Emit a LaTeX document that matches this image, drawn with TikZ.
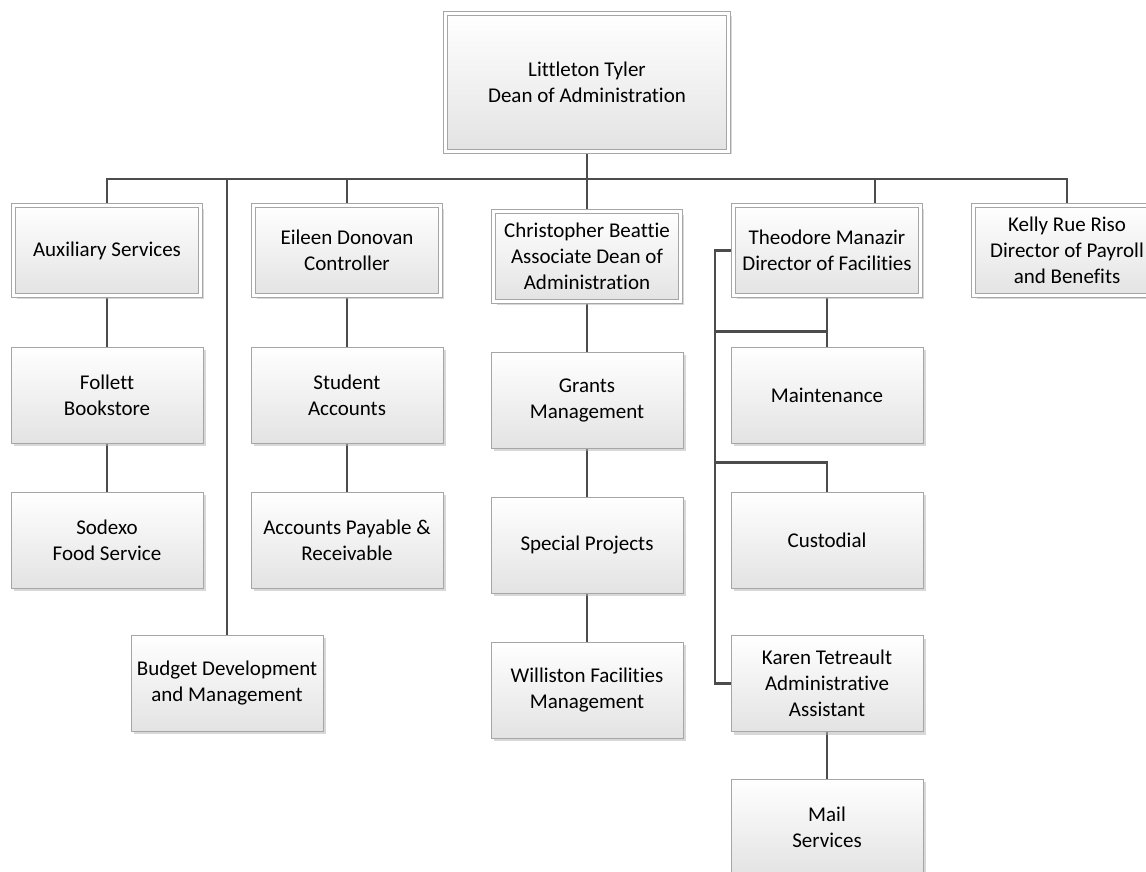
\documentclass[tikz,border=0pt]{standalone}
\usepackage{fontspec}
\setmainfont{Carlito}[Ligatures=NoCommon]
\usetikzlibrary{positioning,shadows,backgrounds}

\begin{document}
\begin{tikzpicture}[x=1pt,y=-1pt,
    font=\fontsize{21}{26}\selectfont,
    box/.style={rectangle,draw=black!35,line width=0.8pt,top color=white,bottom color=black!11,
      align=center,minimum width=192pt,minimum height=96pt,inner sep=2pt,
      drop shadow={shadow xshift=3pt,shadow yshift=-3pt,fill=black!30}},
    headbox/.style={box,double=white,double distance=3pt,line width=0.9pt,
      minimum width=187pt,minimum height=90pt},
    link/.style={draw=black!70,line width=2.4pt}]
    \useasboundingbox (0,0) rectangle (1146,872);

    \node[headbox,minimum width=283pt,minimum height=138pt] (dean) at (587,82.5) {Littleton Tyler\\Dean of Administration};

    % first level
    \node[headbox] (aux) at (107,250.5) {Auxiliary Services};
    \node[headbox] (ctrl) at (347,250.5) {Eileen Donovan\\Controller};
    \node[headbox] (assoc) at (587,256.5) {Christopher Beattie\\Associate Dean of\\Administration};
    \node[headbox] (facil) at (827,250.5) {Theodore Manazir\\Director of Facilities};
    \node[headbox] (payroll) at (1067,250.5) {Kelly Rue Riso\\Director of Payroll\\and Benefits};

    % second level
    \node[box] (follett) at (107,395) {Follett\\Bookstore};
    \node[box] (sodexo) at (107,540) {Sodexo\\Food Service};
    \node[box] (budget) at (227,683) {Budget Development\\and Management};
    \node[box] (student) at (347,395) {Student\\Accounts};
    \node[box] (payable) at (347,540) {Accounts Payable \&\\Receivable};
    \node[box] (grants) at (587,400) {Grants\\Management};
    \node[box] (special) at (587,545) {Special Projects};
    \node[box] (willis) at (587,690) {Williston Facilities\\Management};
    \node[box] (maint) at (827,395) {Maintenance};
    \node[box] (custod) at (827,540) {Custodial};
    \node[box] (admin) at (827,683.5) {Karen Tetreault\\Administrative\\Assistant};
    \node[box] (mail) at (827,827) {Mail\\Services};

    \begin{scope}[on background layer]
      \coordinate (bus) at (0,179);
      \coordinate (spine) at (715,0);
      \draw[link] (dean) -- (dean |- bus);
      \draw[link] (aux) -- (aux |- bus) -- (payroll |- bus) -- (payroll);
      \foreach \n in {ctrl,assoc,budget}
        \draw[link] (\n) -- (\n |- bus);
      \draw[link] ([xshift=48pt]facil.north) -- ([xshift=48pt]facil.north |- bus);

      \draw[link] (aux) -- (follett) -- (sodexo);
      \draw[link] (ctrl) -- (student) -- (payable);
      \draw[link] (assoc) -- (grants) -- (special) -- (willis);
      \draw[link] (facil) -- (maint);
      \draw[link] (admin) -- (mail);

      % facilities side line
      \draw[link] (facil.west) -- (facil.west -| spine) |- (admin.west);
      \draw[link] (maint.north) -- ++(0,-15) coordinate (mtap) -- (mtap -| spine);
      \draw[link] (custod.north) -- ++(0,-29) coordinate (ctap) -- (ctap -| spine);
    \end{scope}
\end{tikzpicture}
\end{document}
